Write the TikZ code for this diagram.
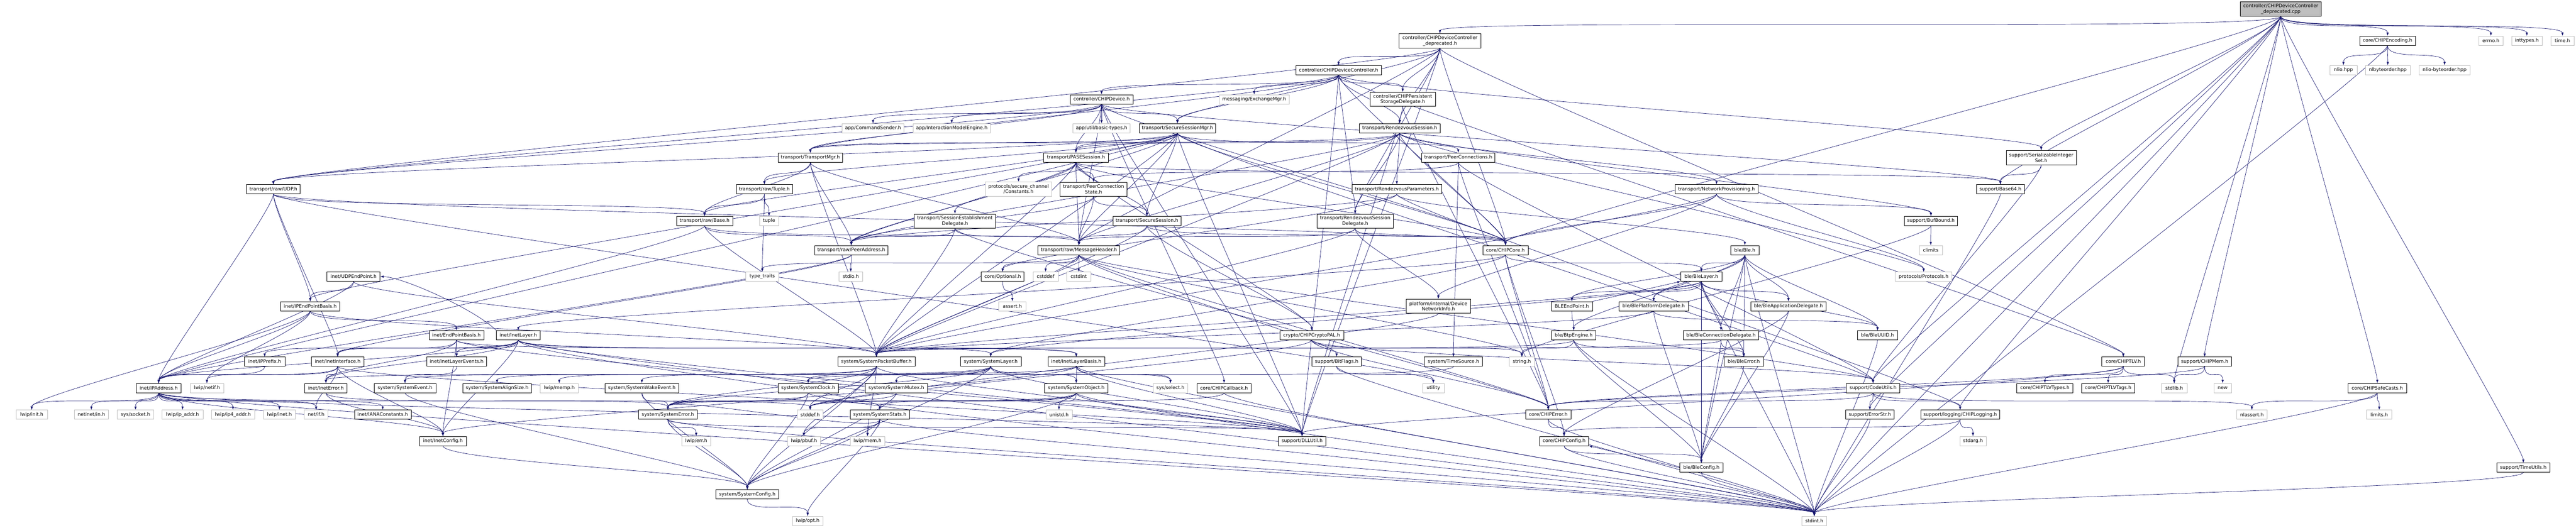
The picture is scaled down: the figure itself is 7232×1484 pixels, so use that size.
\documentclass[tikz,border=0pt]{standalone}
\usepackage{fontspec}
\setmainfont{DejaVu Sans}
\usetikzlibrary{arrows.meta}
\definecolor{edgeblue}{HTML}{191970}
\definecolor{sysgray}{HTML}{BFBFBF}
\pgfdeclarelayer{back}
\pgfsetlayers{back,main}
\tikzset{
  hdr/.style={rectangle, draw=black, fill=white, line width=0.75pt, minimum height=19.5pt, inner sep=1pt, font=\fontsize{10}{11.5}\selectfont, align=center},
  sys/.style={hdr, draw=sysgray},
  two/.style={minimum height=30pt},
  wd/.style={minimum width=#1*0.75pt},
  dep/.style={draw=edgeblue, line width=0.75pt, -{Latex[length=7pt,width=5pt]}}
}
% include edge: bottom of the includer to top of the included file
\newcommand{\depedge}[2]{\draw[dep] (#1.south) .. controls +(0,45) and +(0,-45) .. (#2.north);}
\begin{document}
\begin{tikzpicture}[x=0.75pt, y=-0.75pt]
\useasboundingbox (0,0) rectangle (7232,1484);

% file and first level
\node (cpp) [hdr, two, wd=228, fill=sysgray] at (6403,25.5) {controller/CHIPDeviceController\\\_deprecated.cpp};
\node (ctrldep) [hdr, two, wd=229] at (4042.5,115) {controller/CHIPDeviceController\\\_deprecated.h};
\node (encoding) [hdr, wd=156] at (6703,114.5) {core/CHIPEncoding.h};
\node (errno) [sys, wd=68] at (6993,114.5) {errno.h};
\node (inttypes) [sys, wd=86] at (7094,114.5) {inttypes.h};
\node (timeh) [sys, wd=64] at (7194,114.5) {time.h};

\node (ctrl) [hdr, wd=240] at (3758,197) {controller/CHIPDeviceController.h};
\node (nlio) [sys, wd=76] at (6579,197) {nlio.hpp};
\node (nlbyteorder) [sys, wd=125] at (6703.5,197) {nlbyteorder.hpp};
\node (nliobo) [sys, wd=144] at (6863,197) {nlio-byteorder.hpp};

\node (device) [hdr, wd=177] at (3092.5,279) {controller/CHIPDevice.h};
\node (exchmgr) [sys, wd=196] at (3521,279) {messaging/ExchangeMgr.h};
\node (storage) [hdr, two, wd=184] at (3938,279) {controller/CHIPPersistent\\StorageDelegate.h};

% transport
\node (cmdsender) [sys, wd=174] at (2451,360.5) {app/CommandSender.h};
\node (imengine) [sys, wd=216] at (2672,360.5) {app/InteractionModelEngine.h};
\node (basictypes) [sys, wd=161] at (3092.5,360.5) {app/util/basic-types.h};
\node (securemgr) [hdr, wd=215] at (3305.5,360.5) {transport/SecureSessionMgr.h};
\node (rendezvous) [hdr, wd=227] at (3929.5,360.5) {transport/RendezvousSession.h};

\node (transportmgr) [hdr, wd=182] at (2275,443) {transport/TransportMgr.h};
\node (pase) [hdr, wd=181] at (3020.5,443) {transport/PASESession.h};
\node (peerconns) [hdr, wd=206] at (4094,443) {transport/PeerConnections.h};
\node (serialset) [hdr, two, wd=197] at (5730.5,443) {support/SerializableInteger\\Set.h};

\node (udp) [hdr, wd=151] at (767.5,532) {transport/raw/UDP.h};
\node (tuple) [hdr, wd=158] at (2146,532) {transport/raw/Tuple.h};
\node (secconst) [sys, two, wd=187] at (2859.5,531.5) {protocols/secure\_channel\\/Constants.h};
\node (peerconnstate) [hdr, two, wd=188] at (3070,532) {transport/PeerConnection\\State.h};
\node (rzparams) [hdr, wd=251] at (3921.5,532) {transport/RendezvousParameters.h};
\node (netprov) [hdr, wd=232] at (4819,532) {transport/NetworkProvisioning.h};
\node (base64) [hdr, wd=134] at (5616,532) {support/Base64.h};

\node (rawbase) [hdr, wd=158] at (1978,621) {transport/raw/Base.h};
\node (tupleh) [sys, wd=54] at (2159,621) {tuple};
\node (sessestdel) [hdr, two, wd=228] at (2681,621.5) {transport/SessionEstablishment\\Delegate.h};
\node (securesess) [hdr, wd=190] at (3220,621) {transport/SecureSession.h};
\node (rzdel) [hdr, two, wd=215] at (3804.5,621.5) {transport/RendezvousSession\\Delegate.h};
\node (bufbound) [hdr, wd=150] at (5421,621) {support/BufBound.h};

\node (peeraddr) [hdr, wd=206] at (2390,703) {transport/raw/PeerAddress.h};
\node (msgheader) [hdr, wd=230] at (3029,703) {transport/raw/MessageHeader.h};
\node (chipcore) [hdr, wd=127] at (4226.5,703) {core/CHIPCore.h};
\node (bleh) [hdr, wd=79] at (4898.5,703) {ble/Ble.h};
\node (climits) [sys, wd=65] at (5420.5,703) {climits};

% inet and ble
\node (udpep) [hdr, wd=149] at (992.5,777.5) {inet/UDPEndPoint.h};
\node (typetraits) [sys, wd=92] at (2140,777.5) {type\_traits};
\node (stdio) [sys, wd=67] at (2388.5,777.5) {stdio.h};
\node (optional) [hdr, wd=120] at (2815,777.5) {core/Optional.h};
\node (cstddef) [sys, wd=71] at (2935.5,777.5) {cstddef};
\node (cstdint) [sys, wd=67] at (3028.5,777.5) {cstdint};
\node (blelayer) [hdr, wd=115] at (4776.5,777.5) {ble/BleLayer.h};
\node (protocols) [sys, wd=159] at (5400.5,777.5) {protocols/Protocols.h};

\node (ipepbasis) [hdr, wd=166] at (871,860.5) {inet/IPEndPointBasis.h};
\node (asserth) [sys, wd=76] at (2842,860.5) {assert.h};
\node (devnetinfo) [hdr, two, wd=180] at (4038,860.5) {platform/internal/Device\\NetworkInfo.h};
\node (bleep) [hdr, wd=116] at (4413,860.5) {BLEEndPoint.h};
\node (bleplat) [hdr, wd=195] at (4642.5,860.5) {ble/BlePlatformDelegate.h};
\node (bleapp) [hdr, wd=210] at (5021,860.5) {ble/BleApplicationDelegate.h};

\node (epbasis) [hdr, wd=153] at (1281.5,942.5) {inet/EndPointBasis.h};
\node (inetlayer) [hdr, wd=122] at (1455,942.5) {inet/InetLayer.h};
\node (cryptopal) [hdr, wd=179] at (3682.5,942.5) {crypto/CHIPCryptoPAL.h};
\node (btpengine) [hdr, wd=124] at (4418,942.5) {ble/BtpEngine.h};
\node (bleconndel) [hdr, wd=211] at (4831.5,942.5) {ble/BleConnectionDelegate.h};
\node (bleuuid) [hdr, wd=114] at (5271,942.5) {ble/BleUUID.h};

\node (ipprefix) [hdr, wd=114] at (743,1016.5) {inet/IPPrefix.h};
\node (inetiface) [hdr, wd=148] at (948,1016.5) {inet/InetInterface.h};
\node (inetlayerev) [hdr, wd=168] at (1282,1016.5) {inet/InetLayerEvents.h};
\node (pktbuf) [hdr, wd=217] at (2460.5,1016.5) {system/SystemPacketBuffer.h};
\node (syslayer) [hdr, wd=171] at (2781.5,1016.5) {system/SystemLayer.h};
\node (inetlayerbasis) [hdr, wd=159] at (3021.5,1016.5) {inet/InetLayerBasis.h};
\node (bitflags) [hdr, wd=139] at (3752.5,1016.5) {support/BitFlags.h};
\node (timesource) [hdr, wd=163] at (4080.5,1016.5) {system/TimeSource.h};
\node (stringh) [sys, wd=71] at (4272.5,1016.5) {string.h};
\node (bleerror) [hdr, wd=111] at (4895.5,1016.5) {ble/BleError.h};
\node (corechiptlv) [hdr, wd=120] at (5961,1016.5) {core/CHIPTLV.h};
\node (chipmem) [hdr, wd=151] at (6189.5,1016.5) {support/CHIPMem.h};

% lower levels
\node (ipaddr) [hdr, wd=125] at (445.5,1090.5) {inet/IPAddress.h};
\node (lwipnetif) [sys, wd=94] at (581,1090.5) {lwip/netif.h};
\node (ineterror) [hdr, wd=118] at (915,1090.5) {inet/InetError.h};
\node (sysevent) [hdr, wd=174] at (1137,1090.5) {system/SystemEvent.h};
\node (sysalign) [hdr, wd=193] at (1395.5,1090.5) {system/SystemAlignSize.h};
\node (lwipmemp) [sys, wd=106] at (1570,1090.5) {lwip/memp.h};
\node (syswake) [hdr, wd=206] at (1802,1090.5) {system/SystemWakeEvent.h};
\node (sysclock) [hdr, wd=170] at (2269,1090.5) {system/SystemClock.h};
\node (sysmutex) [hdr, wd=175] at (2516.5,1090.5) {system/SystemMutex.h};
\node (sysobject) [hdr, wd=177] at (3021.5,1090.5) {system/SystemObject.h};
\node (sysselect) [sys, wd=96] at (3286,1090.5) {sys/select.h};
\node (chipcallback) [hdr, wd=153] at (3436.5,1090.5) {core/CHIPCallback.h};
\node (utility) [sys, wd=60] at (4024,1090.5) {utility};
\node (codeutils) [hdr, wd=151] at (5258.5,1090.5) {support/CodeUtils.h};
\node (tlvtypes) [hdr, wd=158] at (5741,1090.5) {core/CHIPTLVTypes.h};
\node (tlvtags) [hdr, wd=149] at (5918.5,1090.5) {core/CHIPTLVTags.h};
\node (stdlib) [sys, wd=72] at (6104,1090.5) {stdlib.h};
\node (newh) [sys, wd=50] at (6240,1090.5) {new};
\node (safecasts) [hdr, wd=164] at (6674,1090.5) {core/CHIPSafeCasts.h};

\node (lwipinit) [sys, wd=88] at (89,1165.5) {lwip/init.h};
\node (netinetin) [sys, wd=95] at (256.5,1165.5) {netinet/in.h};
\node (syssocket) [sys, wd=103] at (380.5,1165.5) {sys/socket.h};
\node (lwipipaddr) [sys, wd=115] at (512.5,1165.5) {lwip/ip\_addr.h};
\node (lwipip4) [sys, wd=122] at (654,1165.5) {lwip/ip4\_addr.h};
\node (lwipinet) [sys, wd=89] at (784.5,1165.5) {lwip/inet.h};
\node (netif) [sys, wd=67] at (887.5,1165.5) {net/if.h};
\node (ianaconst) [hdr, wd=159] at (1074.5,1165.5) {inet/IANAConstants.h};
\node (syserror) [hdr, wd=166] at (1875,1165.5) {system/SystemError.h};
\node (stddef) [sys, wd=73] at (2274.5,1165.5) {stddef.h};
\node (sysstats) [hdr, wd=166] at (2470,1165.5) {system/SystemStats.h};
\node (unistd) [sys, wd=74] at (2973,1165.5) {unistd.h};
\node (chiperror) [hdr, wd=127] at (4346.5,1165.5) {core/CHIPError.h};
\node (errorstr) [hdr, wd=135] at (5249.5,1165.5) {support/ErrorStr.h};
\node (chiplogging) [hdr, wd=222] at (5503,1165.5) {support/logging/CHIPLogging.h};
\node (nlassert) [sys, wd=86] at (6322,1165.5) {nlassert.h};
\node (limits) [sys, wd=71] at (6679.5,1165.5) {limits.h};

\node (inetconfig) [hdr, wd=131] at (1243.5,1239.5) {inet/InetConfig.h};
\node (lwiperr) [sys, wd=81] at (1954.5,1239.5) {lwip/err.h};
\node (lwippbuf) [sys, wd=92] at (2257,1239.5) {lwip/pbuf.h};
\node (lwipmem) [sys, wd=97] at (2435.5,1239.5) {lwip/mem.h};
\node (dllutil) [hdr, wd=133] at (3655.5,1239.5) {support/DLLUtil.h};
\node (chipconfig) [hdr, wd=138] at (4391,1239.5) {core/CHIPConfig.h};
\node (stdarg) [sys, wd=74] at (5539,1239.5) {stdarg.h};

\node (bleconfig) [hdr, wd=121] at (4776.5,1314.5) {ble/BleConfig.h};
\node (timeutils) [hdr, wd=150] at (7084,1314.5) {support/TimeUtils.h};
\node (sysconfig) [hdr, wd=176] at (2098,1389.5) {system/SystemConfig.h};
\node (lwipopt) [sys, wd=85] at (2267.5,1464) {lwip/opt.h};
\node (stdint) [sys, wd=69] at (5093.5,1464) {stdint.h};

% include edges
\begin{pgfonlayer}{back}
\foreach \t in {ctrldep,chipcore,encoding,safecasts,base64,chipmem,codeutils,errorstr,timeutils,chiplogging,serialset,errno,inttypes,stdint,stdlib,timeh} {\depedge{cpp}{\t}}
\foreach \t in {ctrl,storage,rendezvous,securemgr,rzdel,udp,chipcore,corechiptlv,dllutil,msgheader} {\depedge{ctrldep}{\t}}
\foreach \t in {device,exchmgr,storage,securemgr,rendezvous,rzdel,transportmgr,udp,chipcore,corechiptlv,dllutil,serialset} {\depedge{ctrl}{\t}}
\foreach \t in {cmdsender,imengine,basictypes,pase,securemgr,transportmgr,udp,msgheader,chipcallback,chipcore,base64,dllutil} {\depedge{device}{\t}}
\foreach \t in {dllutil,chiperror} {\depedge{storage}{\t}}
\foreach \t in {pase,peerconns,securesess,transportmgr,rawbase,peeraddr,tuple,msgheader,pktbuf,udp,ipaddr,ipepbasis,chipcore,codeutils,dllutil} {\depedge{securemgr}{\t}}
\foreach \t in {rzparams,rzdel,netprov,pase,msgheader,peeraddr,transportmgr,pktbuf,bufbound,chipcore,protocols} {\depedge{rendezvous}{\t}}
\foreach \t in {tuple,rawbase,peeraddr,msgheader,pktbuf} {\depedge{transportmgr}{\t}}
\foreach \t in {secconst,peerconnstate,securesess,sessestdel,msgheader,peeraddr,cryptopal,pktbuf,chipcore,base64} {\depedge{pase}{\t}}
\foreach \t in {peerconnstate,timesource,chiperror,codeutils} {\depedge{peerconns}{\t}}
\foreach \t in {securesess,msgheader,peeraddr} {\depedge{peerconnstate}{\t}}
\foreach \t in {msgheader,cryptopal,chipcore,pktbuf} {\depedge{securesess}{\t}}
\foreach \t in {bleh,optional,peeraddr,chiplogging} {\depedge{rzparams}{\t}}
\foreach \t in {msgheader,chipcore,devnetinfo,pktbuf} {\depedge{rzdel}{\t}}
\foreach \t in {chipcore,bufbound,pktbuf,devnetinfo,protocols} {\depedge{netprov}{\t}}
\foreach \t in {base64,codeutils} {\depedge{serialset}{\t}}
\depedge{base64}{stdint}
\foreach \t in {ipaddr,ipepbasis,inetiface,rawbase,chipcore,utility} {\depedge{udp}{\t}}
\foreach \t in {rawbase,tupleh,typetraits} {\depedge{tuple}{\t}}
\foreach \t in {peeraddr,msgheader,pktbuf,ipaddr} {\depedge{rawbase}{\t}}
\foreach \t in {peeraddr,pktbuf,msgheader,chiperror} {\depedge{sessestdel}{\t}}
\foreach \t in {climits,stringh} {\depedge{bufbound}{\t}}
\foreach \t in {ipaddr,inetiface,stdio} {\depedge{peeraddr}{\t}}
\foreach \t in {optional,cstddef,cstdint,typetraits,stringh,bitflags,pktbuf,chiperror,codeutils} {\depedge{msgheader}{\t}}
\foreach \t in {chipconfig,chiperror,syslayer,inetlayer,blelayer} {\depedge{chipcore}{\t}}
\foreach \t in {blelayer,bleep,bleplat,bleapp,bleconndel,bleuuid,btpengine,bleerror,bleconfig,stdint} {\depedge{bleh}{\t}}
\foreach \t in {bleep,bleplat,bleapp,bleconndel,bleerror,bleuuid,bleconfig,syslayer,pktbuf,stdint} {\depedge{blelayer}{\t}}
\draw[dep] (bleep.north east) -- (blelayer.south west);
\depedge{bleep}{btpengine}
\foreach \t in {bleuuid,bleconfig,pktbuf} {\depedge{bleplat}{\t}}
\foreach \t in {bleconfig,chipconfig} {\depedge{bleapp}{\t}}
\foreach \t in {bleconfig,bleerror,pktbuf} {\depedge{bleconndel}{\t}}
\foreach \t in {bleconfig,bleerror,stringh,pktbuf,stdint} {\depedge{btpengine}{\t}}
\depedge{bleuuid}{stdint}
\depedge{bleerror}{bleconfig}
\draw[dep] (bleconfig.west) -- (chipconfig.south east);
\depedge{bleconfig}{stdint}
\foreach \t in {bleconfig,stdint} {\depedge{chipconfig}{\t}}
\foreach \t in {chipconfig,stdint} {\depedge{chiperror}{\t}}
\foreach \t in {chiperror,errorstr,chiplogging,nlassert} {\depedge{codeutils}{\t}}
\depedge{errorstr}{stdint}
\foreach \t in {stdarg,stdint,chipconfig} {\depedge{chiplogging}{\t}}
\foreach \t in {tlvtypes,tlvtags,stdlib,chiperror,dllutil} {\depedge{corechiptlv}{\t}}
\foreach \t in {stdlib,newh,chiperror} {\depedge{chipmem}{\t}}
\foreach \t in {nlassert,limits,stdint} {\depedge{safecasts}{\t}}
\depedge{timeutils}{stdint}
\foreach \t in {nlio,nlbyteorder,nliobo,stdint} {\depedge{encoding}{\t}}
\depedge{optional}{asserth}
\depedge{devnetinfo}{stddef}
\foreach \t in {chiperror,codeutils,stddef,stringh} {\depedge{cryptopal}{\t}}
\foreach \t in {stdint,stddef} {\depedge{chipcallback}{\t}}
\depedge{timesource}{sysclock}
\foreach \t in {utility,stdint} {\depedge{bitflags}{\t}}
\foreach \t in {ipepbasis,ipaddr,pktbuf} {\depedge{udpep}{\t}}
\foreach \t in {epbasis,ipaddr,lwipnetif,lwipinit,pktbuf} {\depedge{ipepbasis}{\t}}
\foreach \t in {inetiface,inetlayerev,ineterror,inetconfig,inetlayerbasis,dllutil} {\depedge{epbasis}{\t}}
\foreach \t in {ipaddr,ipprefix,inetiface,inetlayerev,ineterror,inetconfig,inetlayerbasis,syslayer,sysstats,dllutil,stdint} {\depedge{inetlayer}{\t}}
\draw[dep] (inetlayer.north west) .. controls +(-60,-60) and +(60,0) .. (udpep.east);
\depedge{ipprefix}{ipaddr}
\foreach \t in {ipaddr,ineterror,inetconfig,lwipnetif,netif,dllutil} {\depedge{inetiface}{\t}}
\depedge{inetlayerev}{sysevent}
\foreach \t in {lwipinit,netinetin,syssocket,lwipipaddr,lwipip4,lwipinet,netif,ianaconst,inetconfig,stddef,stdint,dllutil} {\depedge{ipaddr}{\t}}
\foreach \t in {inetconfig,syserror} {\depedge{ineterror}{\t}}
\depedge{sysevent}{sysconfig}
\depedge{inetconfig}{sysconfig}
\foreach \t in {sysalign,sysconfig,syserror,stddef,lwippbuf,lwipmem,lwipmemp,dllutil} {\depedge{pktbuf}{\t}}
\foreach \t in {syswake,sysclock,sysmutex,syserror,sysobject,sysevent,sysconfig,dllutil,sysselect} {\depedge{syslayer}{\t}}
\foreach \t in {syserror,sysconfig} {\depedge{syswake}{\t}}
\foreach \t in {syserror,sysconfig,stdint} {\depedge{sysclock}{\t}}
\foreach \t in {syserror,sysconfig} {\depedge{sysmutex}{\t}}
\foreach \t in {lwiperr,sysconfig,dllutil,stdint} {\depedge{syserror}{\t}}
\foreach \t in {lwippbuf,lwipmem,lwipopt,sysconfig,syserror,stdint} {\depedge{sysstats}{\t}}
\depedge{sysconfig}{lwipopt}
\foreach \t in {sysobject,sysselect,inetconfig,ineterror,dllutil,stdint} {\depedge{inetlayerbasis}{\t}}
\foreach \t in {unistd,syserror,sysconfig,sysstats,dllutil,stddef,stdint} {\depedge{sysobject}{\t}}
\end{pgfonlayer}

\end{tikzpicture}
\end{document}
